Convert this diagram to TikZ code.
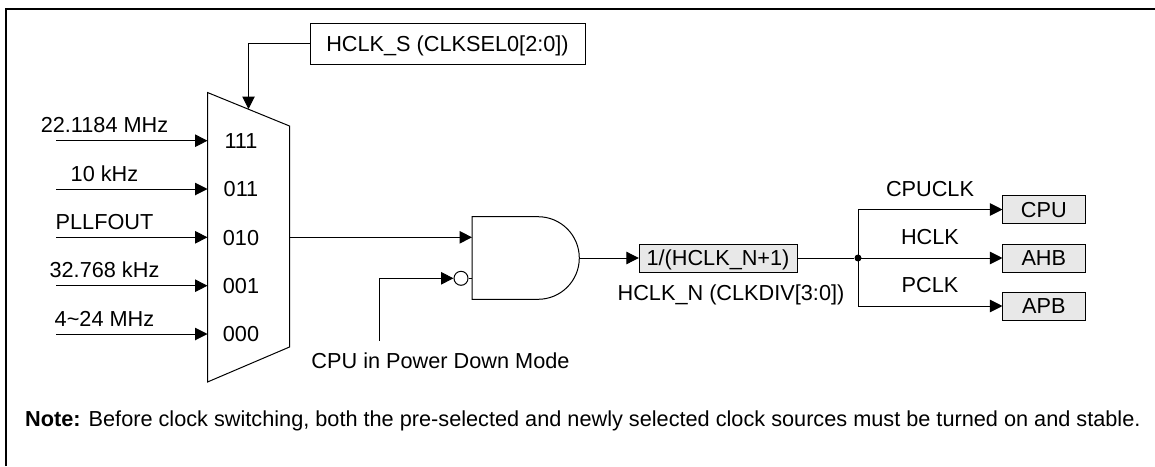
\documentclass[tikz,border=0pt]{standalone}
\usepackage{fontspec}
\setmainfont{Liberation Sans}
\usetikzlibrary{arrows.meta}
\tikzset{
	lbl/.style={inner sep=0pt, text height=15.6pt, text depth=0pt, font=\fontsize{21.7}{24}\selectfont},
	regbox/.style={draw, lbl, minimum height=27.7pt},
	grybox/.style={regbox, fill=black!9},
	sig/.style={line width=1pt, -{Triangle[length=12.5pt,width=12.5pt]}},
	wire/.style={line width=1pt}
}
\newcommand{\clkin}[4] % name, y, label, mux code
{
	\coordinate (#1s) at (56,#2);
	\coordinate (#1e) at (207.5,#2);
	\draw[sig] (#1s) -- (#1e);
	\node[lbl] (#1lbl) at (104.5,#2-15.7) {#3};
	\node[lbl] (#1code) at (241,#2) {#4};
}
\newcommand{\clkout}[4] % name, y, label, text
{
	\node[grybox, minimum width=82.3pt] (#1) at (1043.8,#2) {#4};
	\draw[sig] (dot |- #1) -- (#1);
	\node[lbl] (#1lbl) at (930,#2-21.3) {#3};
}
\begin{document}
\begin{tikzpicture}[x=1pt, y=-1pt]
	\useasboundingbox (0,0) rectangle (1155,466);
	% frame: left and top only
	\draw[line width=2pt] (6,466) -- (6,9) -- (1155,9);

	% mux
	\draw[wire] (207.5,92.5) -- (289.5,126) -- (289.5,347) -- (207.5,382) -- cycle;
	\clkin{a}{140.7}{22.1184 MHz}{111};
	\clkin{b}{189}{10 kHz}{011};
	\clkin{c}{237.3}{PLLFOUT}{010};
	\clkin{d}{285.7}{32.768 kHz}{001};
	\clkin{e}{334}{4\textasciitilde24 MHz}{000};

	% select
	\node[regbox, minimum width=275pt, minimum height=40.5pt] (sel) at (447.5,43.8) {HCLK\_S (CLKSEL0[2:0])};
	\coordinate (seldn) at (248.5,109);
	\draw[sig] (sel.west) -| (seldn);

	% and gate
	\draw[wire] (538,216.7) -- (472,216.7) -- (472,299.3) -- (538,299.3) arc[start angle=-90, end angle=90, radius=41.3pt];
	\coordinate (gin) at (472,237.3);
	\coordinate (gout) at (579.5,258);
	\coordinate (muxout) at (289.5,237.3);
	\draw[sig] (muxout) -- (gin);
	\node[draw, circle, line width=1pt, inner sep=0pt, minimum size=14pt] (inv) at (461,278.3) {};
	\coordinate (invr) at (472,278.3);
	\draw[wire] (inv) -- (invr);
	\coordinate (pwr) at (379,340.7);
	\draw[sig] (pwr) |- (inv.west);
	\node[lbl] (pwrlbl) at (440.5,360.7) {CPU in Power Down Mode};

	% divider
	\node[grybox, minimum width=158pt] (div) at (718,258) {1/(HCLK\_N+1)};
	\draw[sig] (gout) -- (div);
	\node[lbl] (divlbl) at (731,292.7) {HCLK\_N (CLKDIV[3:0])};
	\node[circle, fill, inner sep=0pt, minimum size=7pt] (dot) at (858,258) {};
	\draw[wire] (div) -- (dot);

	% outputs
	\clkout{cpu}{209.5}{CPUCLK}{CPU};
	\clkout{ahb}{258}{HCLK}{AHB};
	\clkout{apb}{306}{PCLK}{APB};
	\draw[wire] (dot |- cpu) -- (dot |- apb);

	\node[lbl, anchor=west] (note) at (25,419) {\textbf{Note:} Before clock switching, both the pre-selected and newly selected clock sources must be turned on and stable.};
\end{tikzpicture}
\end{document}
